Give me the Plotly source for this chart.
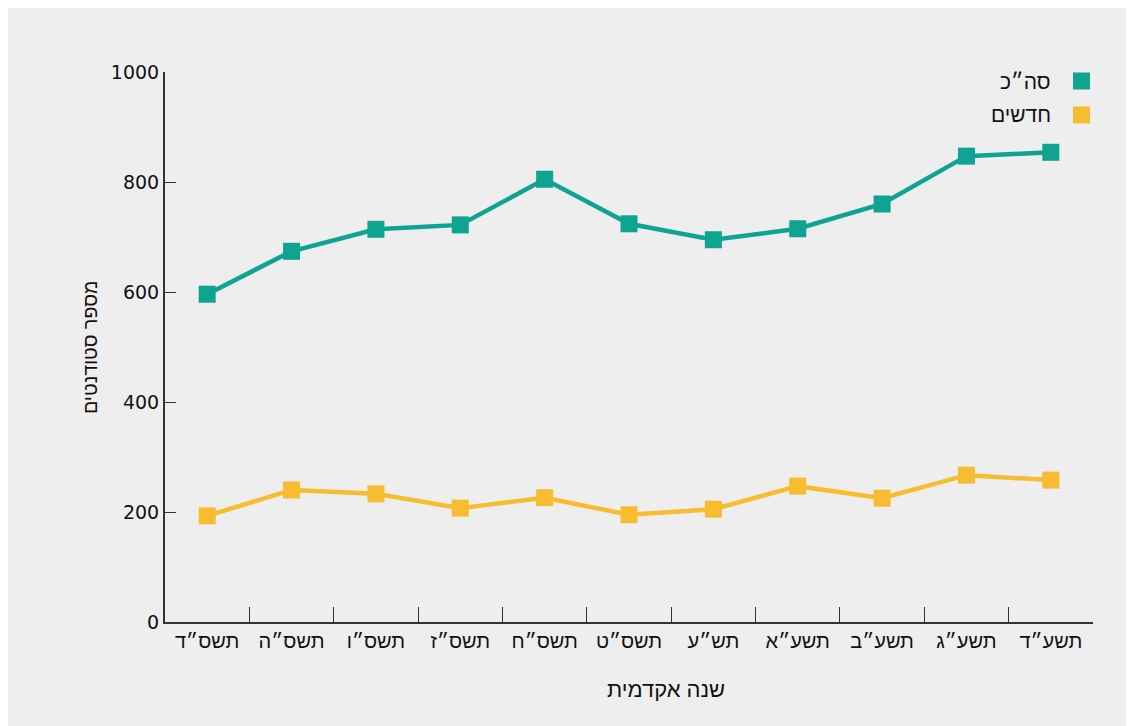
import plotly.graph_objects as go

years = ["תשס\"ד", "תשס\"ה", "תשס\"ו", "תשס\"ז", "תשס\"ח", "תשס\"ט",
         "תש\"ע", "תשע\"א", "תשע\"ב", "תשע\"ג", "תשע\"ד"]
years = [y.replace('"', '\u05f4') for y in years]
total = [596, 674, 714, 722, 805, 724, 695, 715, 760, 847, 854]
new = [193, 240, 233, 207, 226, 195, 205, 247, 225, 267, 258]

GREEN = "#0fa392"
YELLOW = "#f7bc2f"
FONT = "DejaVu Sans, sans-serif"
HFONT = "Liberation Sans, DejaVu Sans, sans-serif"

OFF = 8  # page body margin
W, H = 1134 - OFF, 726 - OFF
# plot area in screenshot pixels
SX0, SX1, SY0, SY1 = 165, 1093, 72, 622
L, T = SX0 - OFF, SY0 - OFF
pw, ph = SX1 - SX0, SY1 - SY0
R, B = W - L - pw, H - T - ph

def px(x):
    return (x - SX0) / pw

def py(y):
    return (SY1 - y) / ph

fig = go.Figure()
fig.add_trace(go.Scatter(x=years, y=total, mode="lines+markers", name="סה\u05f4כ",
                         line=dict(color=GREEN, width=4.5),
                         marker=dict(symbol="square", size=17, color=GREEN)))
fig.add_trace(go.Scatter(x=years, y=new, mode="lines+markers", name="חדשים",
                         line=dict(color=YELLOW, width=4.5),
                         marker=dict(symbol="square", size=17, color=YELLOW)))

# manual RTL legend
legend_items = [("סה\u05f4כ", GREEN, 81), ("חדשים", YELLOW, 115)]
for label, col, yc in legend_items:
    fig.add_shape(type="rect", xref="paper", yref="paper",
                  x0=px(1073), x1=px(1090), y0=py(yc + 8.5), y1=py(yc - 8.5),
                  fillcolor=col, line=dict(width=0))
    fig.add_annotation(xref="paper", yref="paper", x=px(1053), y=py(yc),
                       text=label, showarrow=False, xanchor="right", yanchor="middle",
                       font=dict(family=HFONT, size=21, color="#111111"))

# axis titles
fig.add_annotation(xref="paper", yref="paper", x=px(666), y=py(689),
                   text="שנה אקדמית", showarrow=False, xanchor="center", yanchor="middle",
                   font=dict(family=HFONT, size=22, color="#111111"))
fig.add_annotation(xref="paper", yref="paper", x=px(90), y=py(348),
                   text="מספר סטודנטים", showarrow=False, textangle=-90,
                   xanchor="center", yanchor="middle",
                   font=dict(family=HFONT, size=19.5, color="#111111"))

fig.update_layout(
    width=W, height=H,
    margin=dict(l=L, r=R, t=T, b=B, pad=0),
    paper_bgcolor="#eeeeee", plot_bgcolor="rgba(0,0,0,0)",
    showlegend=False,
    font=dict(family=FONT, size=18, color="#111111"),
    xaxis=dict(type="category", range=[-0.5, 10.5], showgrid=False, zeroline=False,
               showline=True, linecolor="#333333", linewidth=2,
               ticks="inside", tickson="boundaries", ticklen=15, tickwidth=1,
               tickcolor="#333333",
               tickfont=dict(family=HFONT, size=20, color="#111111")),
    yaxis=dict(range=[0, 1000], tickvals=[0, 200, 400, 600, 800, 1000],
               showgrid=False, zeroline=False,
               showline=True, linecolor="#333333", linewidth=2,
               ticks="inside", ticklen=11, tickwidth=1, tickcolor="#333333",
               tickfont=dict(family=FONT, size=19, color="#111111")),
)

fig.write_html("out.html")
